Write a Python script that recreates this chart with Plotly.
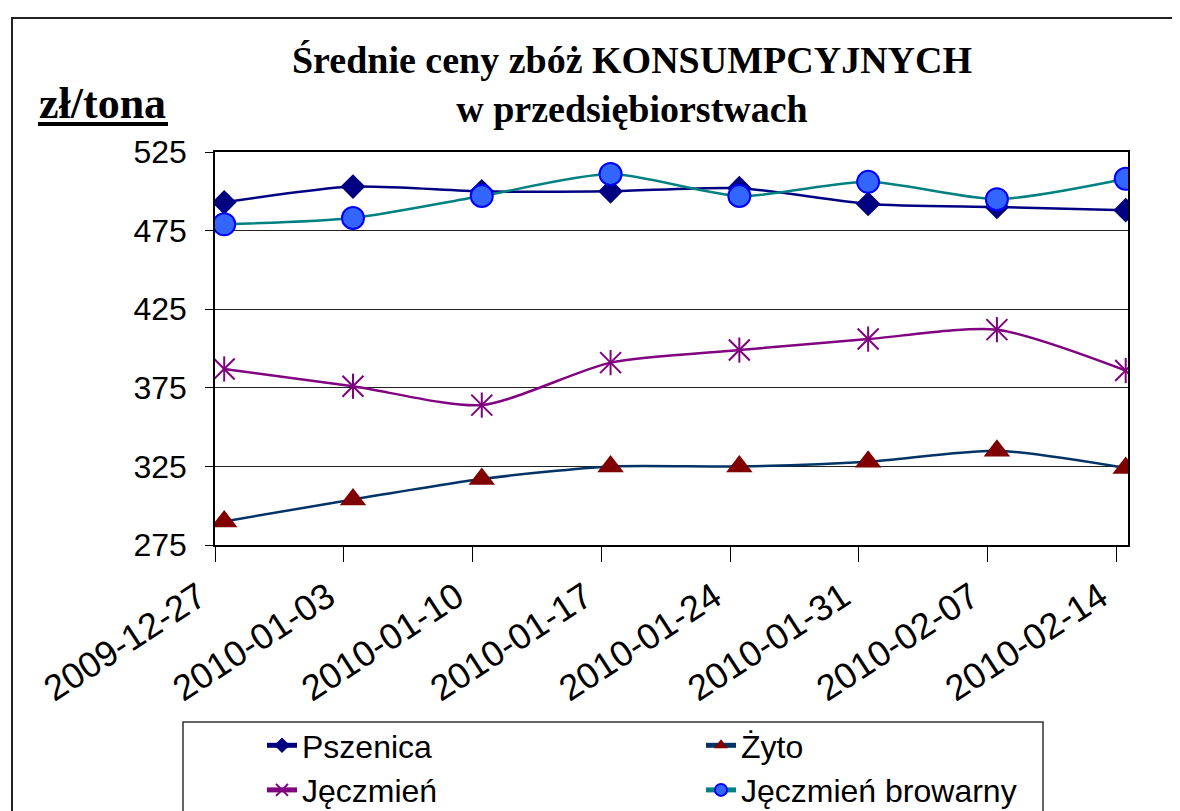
import plotly.graph_objects as go
import pandas as pd

dates = ["2009-12-27", "2010-01-03", "2010-01-10", "2010-01-17",
         "2010-01-24", "2010-01-31", "2010-02-07", "2010-02-14"]
tick_labels = dates
pszenica = [493, 503, 500, 500, 502, 492, 490, 488]
zyto = [290, 304, 317, 325, 325, 328, 335, 324]
jeczmien = [387, 376, 364, 391, 399, 406, 412, 386]
browarny = [479, 483, 497, 511, 497, 506, 495, 508]
y_ticks = [275, 325, 375, 425, 475, 525]

dt = pd.to_datetime(dates)
half = pd.Timedelta(hours=12)

fig = go.Figure()
SM = 0.7
fig.add_trace(go.Scatter(
    x=dates, y=pszenica, name="Pszenica", mode="lines+markers", legend="legend",
    line=dict(color="#000080", width=2.5, shape="spline", smoothing=SM),
    marker=dict(symbol="diamond", size=19, color="#000080")))
fig.add_trace(go.Scatter(
    x=dates, y=zyto, name="Żyto", mode="lines+markers", legend="legend2",
    line=dict(color="#003366", width=2.5, shape="spline", smoothing=SM),
    marker=dict(symbol="triangle-up", size=23, color="#800000")))
fig.add_trace(go.Scatter(
    x=dates, y=jeczmien, name="Jęczmień", mode="lines+markers", legend="legend",
    line=dict(color="#800080", width=2.5, shape="spline", smoothing=SM),
    marker=dict(symbol="x-thin-open", size=21, color="#800080",
                line=dict(color="#800080", width=2))))
fig.add_trace(go.Scatter(
    x=dates, y=jeczmien, mode="markers", showlegend=False, hoverinfo="skip",
    marker=dict(symbol="line-ns-open", size=18, color="#800080",
                line=dict(color="#800080", width=2))))
fig.add_trace(go.Scatter(
    x=dates, y=browarny, name="Jęczmień browarny", mode="lines+markers", legend="legend2",
    line=dict(color="#008080", width=2.5, shape="spline", smoothing=SM),
    marker=dict(symbol="circle", size=22, color="#3366FF",
                line=dict(color="#0000FF", width=2))))

OFF = 8  # page body margin
W, H = 1172, 803
L, R, T, B = 207, 52, 144, 266
pw, ph = W - L - R, H - T - B

def px(xs):
    return (xs - OFF - L) / pw

def py(ys):
    return (H - B - (ys - OFF)) / ph

legend_font = dict(family="Liberation Sans, Arial", size=32, color="black")

fig.update_layout(
    width=W, height=H,
    margin=dict(l=L, r=R, t=T, b=B, autoexpand=False),
    paper_bgcolor="white", plot_bgcolor="white",
    font=dict(family="Liberation Sans, Arial", color="black"),
    title=dict(text="<b>Średnie ceny zbóż KONSUMPCYJNYCH<br>w przedsiębiorstwach</b>",
               font=dict(family="Liberation Serif, Times New Roman", size=38, color="black"),
               x=(632 - OFF) / W, xanchor="center", xref="container",
               y=1 - 65 / H, yanchor="top", yref="container"),
    showlegend=True,
    legend=dict(orientation="v", x=254 / W, y=1 - 710 / H, xanchor="left", yanchor="top",
                xref="container", yref="container",
                bgcolor="rgba(0,0,0,0)", borderwidth=0, font=legend_font,
                tracegroupgap=0, itemsizing="constant"),
    legend2=dict(orientation="v", x=693 / W, y=1 - 710 / H, xanchor="left", yanchor="top",
                 xref="container", yref="container",
                 bgcolor="rgba(0,0,0,0)", borderwidth=0, font=legend_font,
                 tracegroupgap=0, itemsizing="constant"),
    xaxis=dict(type="date",
               range=[dt[0] - half, dt[-1] + pd.Timedelta(hours=3)],
               tickvals=list(dt - half), ticktext=tick_labels, tickangle=-33,
               tickfont=dict(family="Liberation Sans, Arial", size=36, color="black"),
               ticklabelshift=-16,
               showgrid=False, zeroline=False, automargin=False,
               showline=True, linecolor="#000000", linewidth=1.5, mirror=True,
               ticks="outside", ticklen=15, tickwidth=1, tickcolor="#000000"),
    yaxis=dict(range=[275, 525], tickvals=y_ticks, automargin=False,
               tickfont=dict(family="Liberation Sans, Arial", size=32, color="black"),
               ticklabelstandoff=12,
               showgrid=True, gridcolor="#222222", gridwidth=1, zeroline=False,
               showline=True, linecolor="#000000", linewidth=1.5, mirror=True,
               ticks="outside", ticklen=8, tickcolor="#000000"),
    annotations=[dict(text="<b>zł/tona</b>", xref="paper", yref="paper",
                      x=px(37), y=py(103), xanchor="left", yanchor="middle",
                      showarrow=False,
                      font=dict(family="Liberation Serif, Times New Roman", size=44, color="black"))],
    shapes=[
        dict(type="line", xref="paper", yref="paper",
             x0=px(38), x1=px(168), y0=py(124), y1=py(124),
             line=dict(color="black", width=4)),
        dict(type="rect", xref="paper", yref="paper",
             x0=px(183), x1=px(1043), y0=py(722), y1=py(840),
             line=dict(color="#333333", width=1.5)),
        dict(type="rect", xref="paper", yref="paper",
             x0=px(12), x1=px(1200), y0=py(18), y1=py(840),
             line=dict(color="#222222", width=2)),
    ],
)

fig.write_html("out.html")
